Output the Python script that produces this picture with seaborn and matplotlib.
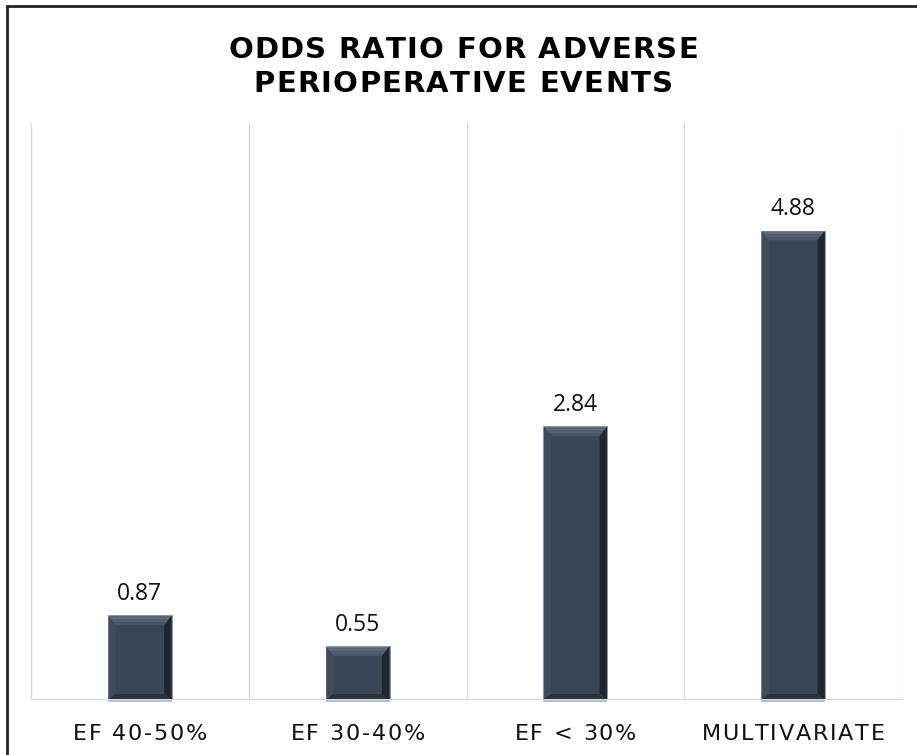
import matplotlib
matplotlib.use("Agg")
import matplotlib.pyplot as plt
import numpy as np
import pandas as pd
import seaborn as sns
from matplotlib.font_manager import FontProperties
from matplotlib.patches import Polygon, Rectangle

categories = ["EF 40-50%", "EF 30-40%", "EF < 30%", "MULTIVARIATE"]
odds_ratios = [0.87, 0.55, 2.84, 4.88]
value_labels = ["0.87", "0.55", "2.84", "4.88"]
title_lines = ["ODDS RATIO FOR ADVERSE", "PERIOPERATIVE EVENTS"]

W, H, DPI = 917, 755, 100
BAR = "#3a4657"
GRID = "#d9d9d9"

sns.set_theme(style="white")
plt.rcParams["font.family"] = ["DejaVu Sans"]

fig = plt.figure(figsize=(W / DPI, H / DPI), dpi=DPI)
fig.patch.set_facecolor("white")

# plot area in pixel terms: x 31..902, y 123..699 (top-down)
ax = fig.add_axes([31 / W, (H - 699) / H, (902 - 31) / W, (699 - 123) / H])
df = pd.DataFrame({"group": categories, "odds": odds_ratios})
sns.barplot(data=df, x="group", y="odds", color=BAR, saturation=1,
            width=0.295, edgecolor="#8a94a3", linewidth=0.6, ax=ax, zorder=3)

ax.set_xlim(-0.5, len(categories) - 0.5)
ax.set_ylim(0, 6)
ax.set_xlabel("")
ax.set_ylabel("")
ax.set_yticks([])
ax.set_xticks([])
ax.set_xticks(np.arange(-0.5, len(categories)), minor=True)
ax.tick_params(which="both", length=0)
ax.grid(False)
ax.grid(which="minor", axis="x", color=GRID, lw=0.9, zorder=0)
for s in ["top", "left", "right"]:
    ax.spines[s].set_visible(False)
ax.spines["bottom"].set_color(GRID)
ax.spines["bottom"].set_linewidth(0.9)
ax.set_facecolor("white")

# bevelled look on each bar
px_x = (902 - 31) / len(categories)
px_y = (699 - 123) / 6.0
bx, by = 7 / px_x, 9 / px_y
for p in list(ax.patches):
    x0, w, h = p.get_x(), p.get_width(), p.get_height()
    inset = 0.8
    x0 += inset / px_x
    x1 = x0 + w - 2 * inset / px_x
    h_in = h - inset / px_y
    ix0, ix1, iy0, iy1 = x0 + bx, x1 - bx, 5 / px_y, h_in - by
    # top bevel as a short gradient
    n = 6
    for k in range(n):
        t0, t1 = k / n, (k + 1) / n
        ya, yb = h_in - t0 * by, h_in - t1 * by
        xa0, xa1 = x0 + t0 * bx, x1 - t0 * bx
        xb0, xb1 = x0 + t1 * bx, x1 - t1 * bx
        c = np.array([0x64, 0x70, 0x82]) * (1 - t0) + np.array([0x44, 0x50, 0x61]) * t0
        ax.add_patch(Polygon([(xa0, ya), (xa1, ya), (xb1, yb), (xb0, yb)],
                             closed=True, fc=c / 255, ec="none", zorder=4))
    ax.add_patch(Polygon([(x0, 0), (x0, h_in), (ix0, iy1), (ix0, iy0)],
                         closed=True, fc="#404c5c", ec="none", zorder=4))
    ax.add_patch(Polygon([(x1, 0), (x1, h_in), (ix1, iy1), (ix1, iy0)],
                         closed=True, fc="#1e252e", ec="none", zorder=4))
    ax.add_patch(Polygon([(x0, 0), (x1, 0), (ix1, iy0), (ix0, iy0)],
                         closed=True, fc="#28313c", ec="none", zorder=4))
    ax.add_patch(Rectangle((p.get_x(), -2.5 / px_y), w, 2.5 / px_y, fc="#b8bec8",
                           ec="none", zorder=2, clip_on=False))

for i, (v, lab) in enumerate(zip(odds_ratios, value_labels)):
    ax.annotate(lab, (i, v), xytext=(0, 11), textcoords="offset points",
                ha="center", va="baseline", fontsize=16.5,
                family=["Open Sans", "DejaVu Sans"], color="#111111")

fig.canvas.draw()
renderer = fig.canvas.get_renderer()


def char_width(ch, fp):
    w2, _, _ = renderer.get_text_width_height_descent("||", fp, ismath=False)
    w3, _, _ = renderer.get_text_width_height_descent("|" + ch + "|", fp, ismath=False)
    return w3 - w2


def spaced_text(s, cx, base_y, spacing, fp, color):
    widths = [char_width(ch, fp) for ch in s]
    total = sum(widths) + spacing * (len(s) - 1)
    x = cx - total / 2
    for ch, w in zip(s, widths):
        if ch != " ":
            fig.text(x / W, 1 - base_y / H, ch, fontproperties=fp, color=color,
                     ha="left", va="baseline")
        x += w + spacing


title_fp = FontProperties(family=["DejaVu Sans"], weight="bold", size=21)
spaced_text(title_lines[0], 463, 58, 1.2, title_fp, "#000000")
spaced_text(title_lines[1], 463, 92, 1.2, title_fp, "#000000")

cat_fp = FontProperties(family=["DejaVu Sans"], size=16)
for i, c in enumerate(categories):
    cx = ax.transData.transform((i, 0))[0]
    spaced_text(c, cx, 740, 1.8, cat_fp, "#111111")

# outer frame
fig.patches.append(Rectangle((6.5 / W, -0.05), 1.2, 1 - 5.5 / H + 0.05,
                             transform=fig.transFigure, fill=False,
                             ec="#222222", lw=2.0, clip_on=False))

fig.savefig("out.png", dpi=DPI, facecolor="white")
